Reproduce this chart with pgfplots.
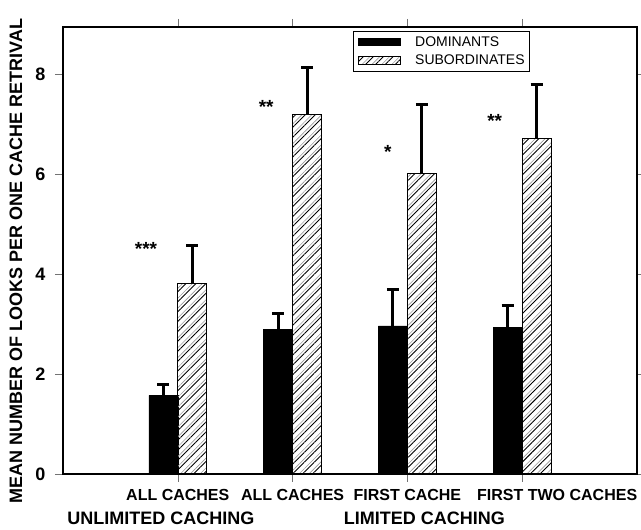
\documentclass[border=0pt]{standalone}
\usepackage{fontspec}
\setmainfont{Liberation Sans}
\usepackage{pgfplots}
\pgfplotsset{compat=1.18}
\usetikzlibrary{patterns.meta}

\begin{document}
\begin{tikzpicture}
\begin{axis}[
  scale only axis, width=574pt, height=447pt,
  xmin=0, xmax=5, ymin=0, ymax=8.94,
  ybar=0pt, bar width=29pt,
  clip=false,
  axis line style={line width=2.6pt, black},
  xtick={1,2,3,4},
  xticklabels={ALL CACHES, ALL CACHES, FIRST CACHE, \hspace*{70pt}FIRST TWO CACHES},
  ytick={0,2,4,6,8},
  tick align=outside, major tick length=8pt,
  tick style={line width=0.6pt, black!55},
  xtick pos=both, ytick pos=both,
  /pgf/number format/assume math mode=true,
  yticklabel style={font=\bfseries\fontsize{18}{18}\selectfont, xshift=-6pt},
  xticklabel style={font=\bfseries\fontsize{16}{16}\selectfont, anchor=base, yshift=-18pt},
  ylabel={MEAN NUMBER OF LOOKS PER ONE CACHE RETRIVAL},
  ylabel style={font=\bfseries\fontsize{18}{18}\selectfont, at={(axis description cs:-0.082,0.477)}, anchor=center},
  legend style={at={(rel axis cs:0.505,0.991)}, anchor=north west, draw=black, line width=0.6pt,
    font=\fontsize{14}{16}\selectfont, row sep=3pt, inner xsep=3pt, inner ysep=3pt},
  legend cell align=left,
  legend image code/.code={\draw[#1, line width=0.6pt] (0pt,-3.8pt) rectangle (42pt,3.8pt); \path (-2pt,0pt) (54pt,0pt);},
]
\addplot[fill=black, draw=black,
  error bars/.cd, y dir=plus, y explicit,
  error bar style={line width=3pt, black},
  error mark options={rotate=90, line width=3pt, mark size=6pt, black}]
  coordinates {(1,1.57) +- (0,0.21) (2,2.89) +- (0,0.32) (3,2.96) +- (0,0.72) (4,2.93) +- (0,0.43)};
\addlegendentry{DOMINANTS}
\addplot[draw=black, line width=1pt,
  preaction={pattern={Lines[angle=45,distance=7pt,yshift=3.5pt,line width=0.6pt]}, pattern color=black!40},
  pattern={Lines[angle=45,distance=7pt,line width=0.9pt]}, pattern color=black,
  error bars/.cd, y dir=plus, y explicit,
  error bar style={line width=3pt, black},
  error mark options={rotate=90, line width=3pt, mark size=6pt, black}]
  coordinates {(1,3.80) +- (0,0.77) (2,7.18) +- (0,0.94) (3,6.01) +- (0,1.38) (4,6.71) +- (0,1.08)};
\addlegendentry{SUBORDINATES}
\node[font=\bfseries\fontsize{19}{19}\selectfont] at (axis cs:0.723,4.50) {***};
\node[font=\bfseries\fontsize{19}{19}\selectfont] at (axis cs:1.77,7.35) {**};
\node[font=\bfseries\fontsize{19}{19}\selectfont] at (axis cs:2.83,6.45) {*};
\node[font=\bfseries\fontsize{19}{19}\selectfont] at (axis cs:3.76,7.07) {**};
\node[font=\bfseries\fontsize{18}{18}\selectfont, anchor=base] at (axis cs:0.853,0) [yshift=-50pt] {UNLIMITED CACHING};
\node[font=\bfseries\fontsize{18}{18}\selectfont, anchor=base] at (axis cs:3.147,0) [yshift=-50pt] {LIMITED CACHING};
\end{axis}
\pgfresetboundingbox
\path ([shift={(-63pt,-55pt)}]current axis.south west) rectangle ([shift={(4pt,27pt)}]current axis.north east);
\end{tikzpicture}
\end{document}
